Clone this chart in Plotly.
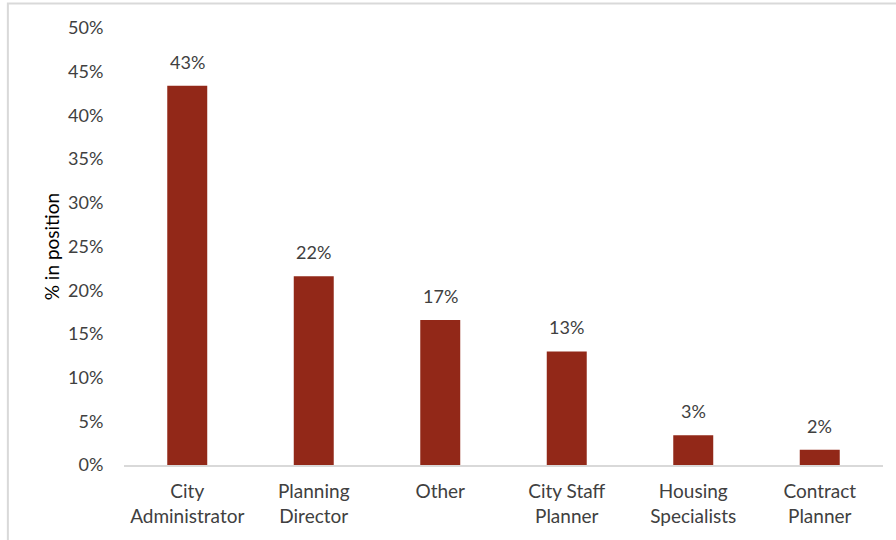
import plotly.graph_objects as go

# Share of respondents by position
positions = ["City<br>Administrator", "Planning<br>Director", "Other",
             "City Staff<br>Planner", "Housing<br>Specialists", "Contract<br>Planner"]
shares = [0.434, 0.216, 0.166, 0.130, 0.034, 0.0175]
y_ticks = [0, 0.05, 0.10, 0.15, 0.20, 0.25, 0.30, 0.35, 0.40, 0.45, 0.50]

BAR_COLOR = "#922818"
TEXT_COLOR = "#404040"
FONT = "Lato, Open Sans, sans-serif"

fig = go.Figure(
    go.Bar(
        x=positions,
        y=shares,
        marker=dict(color=BAR_COLOR, line=dict(width=0)),
        hoverinfo="skip",
    )
)

# Value labels above each bar
for name, v in zip(positions, shares):
    fig.add_annotation(
        x=name, y=v, text=f"{v:.0%}", showarrow=False,
        yanchor="bottom", yshift=11,
        font=dict(family=FONT, size=18, color=TEXT_COLOR),
    )

# Light outer frame
fig.add_shape(
    type="rect", xref="paper", yref="paper",
    x0=-0.153, x1=1.05, y0=-0.3, y1=1.056,
    line=dict(color="#D9D9D9", width=2), fillcolor="rgba(0,0,0,0)",
    layer="below",
)

fig.update_layout(
    width=896, height=540,
    margin=dict(l=124, r=13, t=28, b=75),
    paper_bgcolor="white", plot_bgcolor="white",
    bargap=0.684,
    showlegend=False,
    font=dict(family=FONT, size=18, color=TEXT_COLOR),
    xaxis=dict(
        showline=True, linecolor="#D9D9D9", linewidth=2,
        ticks="outside", ticklen=8, tickcolor="rgba(0,0,0,0)",
        tickfont=dict(size=19, color=TEXT_COLOR),
        showgrid=False, zeroline=False,
    ),
    yaxis=dict(
        range=[0, 0.5], tickvals=y_ticks, tickformat=".0%",
        showgrid=False, zeroline=False, showline=False,
        ticks="outside", ticklen=16, tickcolor="rgba(0,0,0,0)",
        tickfont=dict(size=18, color=TEXT_COLOR),
        title=dict(text="% in position", standoff=3,
                   font=dict(size=19, color="#000000")),
    ),
)

fig.write_html("out.html")
